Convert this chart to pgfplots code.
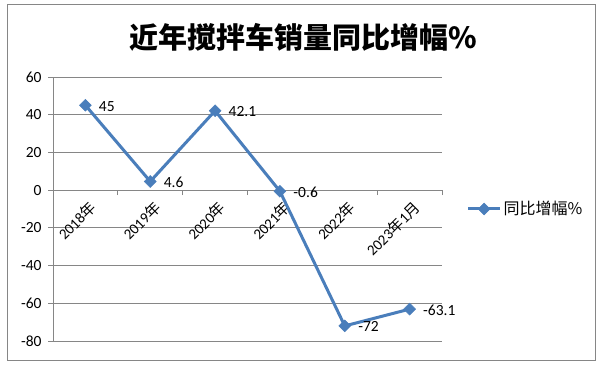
\documentclass[border=0pt]{standalone}
\usepackage{fontspec}
\setmainfont{Carlito}
\newfontfamily\cjk{Noto Sans CJK SC}
\usepackage{pgfplots}
\pgfplotsset{compat=1.18}
\definecolor{ser}{RGB}{74,126,187}
\definecolor{gridc}{RGB}{134,134,134}
\begin{document}
\begin{tikzpicture}[x=1bp,y=1bp]
\path[use as bounding box] (0,0) rectangle (600,364);
\draw[draw=gridc, line width=1bp, fill=white] (7,4) rectangle (595,359);
\node[font=\cjk\bfseries\fontsize{29bp}{33bp}\selectfont] at (303,327) {近年搅拌车销量同比增幅\%};
\begin{axis}[
 at={(53bp,23bp)}, anchor=south west, scale only axis, width=389bp, height=264bp,
 xmin=-0.5, xmax=5.5, ymin=-80, ymax=60,
 axis x line=middle, axis y line=left,
 axis line style={-, gridc, line width=0.9bp},
 hide obscured y ticks=false, hide obscured x ticks=false,
 ytick={-80,-60,...,60},
 yticklabels={-80,-60,-40,-20,0,20,40,60},
 ymajorgrids, grid style={gridc, line width=0.9bp},
 xtick={0,...,5},
 xticklabels={2018{\cjk 年},2019{\cjk 年},2020{\cjk 年},2021{\cjk 年},2022{\cjk 年},2023{\cjk 年}1{\cjk 月}},
 minor xtick={-0.5,0.5,...,5.5},
 xtick align=outside, ytick align=outside,
 major tick length=5bp, minor tick length=5bp,
 major x tick style={draw=none},
 minor x tick style={gridc, line width=0.9bp},
 y tick style={gridc, line width=0.9bp},
 yticklabel style={xshift=-3bp, font=\fontsize{15.5bp}{18bp}\selectfont},
 xticklabel style={rotate=45, anchor=east, xshift=2bp, yshift=-12bp, font=\fontsize{15bp}{17bp}\selectfont},
 legend style={at={(1.055,0.5)}, anchor=west, draw=none, fill=none,
   font=\cjk\fontsize{16bp}{18bp}\selectfont},
 legend image code/.code={\draw[mark repeat=2,mark phase=2] plot coordinates {(0bp,0bp)(16bp,0bp)(32bp,0bp)};},
 clip=false,
]
\addplot[ser, line width=3bp, mark=square*, mark size=4.2bp, mark options={rotate=45, line width=0.5bp},
  nodes near coords, point meta=explicit symbolic,
  nodes near coords style={anchor=west, black, xshift=10bp, yshift=-1bp, font=\fontsize{15.5bp}{18bp}\selectfont}]
 table[meta=label] {
x y label
0 45 45
1 4.6 4.6
2 42.1 42.1
3 -0.6 -0.6
4 -72 -72
5 -63.1 -63.1
};
\addlegendentry{同比增幅\%}
\end{axis}
\end{tikzpicture}
\end{document}
